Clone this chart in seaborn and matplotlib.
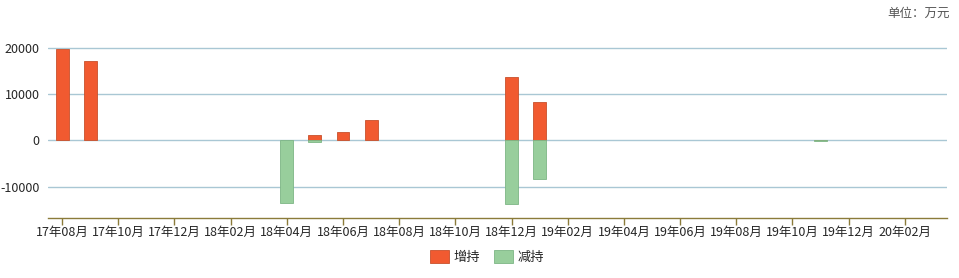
import matplotlib
matplotlib.use("Agg")
import matplotlib.pyplot as plt
from matplotlib.patches import Patch
import seaborn as sns
import pandas as pd

months = ["17年08月", "17年09月", "17年10月", "17年11月", "17年12月",
          "18年01月", "18年02月", "18年03月", "18年04月", "18年05月", "18年06月",
          "18年07月", "18年08月", "18年09月", "18年10月", "18年11月", "18年12月",
          "19年01月", "19年02月", "19年03月", "19年04月", "19年05月", "19年06月",
          "19年07月", "19年08月", "19年09月", "19年10月", "19年11月", "19年12月",
          "20年01月", "20年02月", "20年03月"]
increase = [19800, 17200, 0, 0, 0, 0, 0, 0, 0, 1100, 1800, 4400, 0, 0, 0, 0,
            13700, 8300, 0, 0, 0, 0, 0, 0, 0, 0, 0, 60, 0, 0, 0, 0]
decrease = [0, 0, 0, 0, 0, 0, 0, 0, -13600, -300, 0, 0, 0, 0, 0, 0,
            -13800, -8400, 0, 0, 0, 0, 0, 0, 0, 0, 0, -40, 0, 0, 0, 0]
series_names = ["增持", "减持"]
yticks = [-10000, 0, 10000, 20000]

sns.set_theme(style="white")
plt.rcParams["font.family"] = ["Noto Sans CJK SC", "DejaVu Sans"]
plt.rcParams["axes.unicode_minus"] = False

df = pd.DataFrame({
    "month": months * 2,
    "value": increase + decrease,
    "type": [series_names[0]] * len(months) + [series_names[1]] * len(months),
})

fig = plt.figure(figsize=(9.59, 2.78), dpi=100)
ax = fig.add_axes([48 / 959, 60 / 278, (947 - 48) / 959, (218 - 40) / 278])

palette = {series_names[0]: "#F15A30", series_names[1]: "#98CE9C"}
edges = {series_names[0]: "#C8502C", series_names[1]: "#7DB585"}
sns.barplot(data=df, x="month", y="value", hue="type", order=months,
            hue_order=series_names, dodge=False, palette=palette,
            width=0.46, ax=ax, legend=False, linewidth=0.6,
            edgecolor="#B06040", saturation=1)
# edge colours per series; hide empty bars
for patch in ax.patches:
    if patch.get_height() == 0:
        patch.set_visible(False)
        continue
    fc = patch.get_facecolor()
    if fc[1] > 0.6:
        patch.set_edgecolor(edges[series_names[1]])
    else:
        patch.set_edgecolor(edges[series_names[0]])

ax.set_xlim(-0.5, len(months) - 0.5)
ax.set_ylim(-16800, 21730)
ax.set_yticks(yticks)
ax.set_yticklabels([str(v) for v in yticks], fontsize=9)
ax.yaxis.grid(True, color="#A9C7D4", linewidth=1)
ax.set_axisbelow(True)
ax.set_xlabel("")
ax.set_ylabel("")

tick_pos = list(range(0, len(months), 2))
ax.set_xticks(tick_pos)
ax.set_xticklabels([months[i] for i in tick_pos], fontsize=9)
ax.tick_params(axis="x", direction="out", length=5, color="#8B7B3A",
               width=1, pad=1, bottom=True)
ax.tick_params(axis="y", length=0, pad=6)

for s in ["top", "right", "left"]:
    ax.spines[s].set_visible(False)
ax.spines["bottom"].set_color("#8B7B3A")
ax.spines["bottom"].set_linewidth(1)

handles = [Patch(facecolor=palette[n], edgecolor=edges[n], linewidth=0.6)
           for n in series_names]
ax.legend(handles, series_names, loc="center", bbox_to_anchor=(487 / 959, 21 / 278),
          bbox_transform=fig.transFigure, ncol=2, frameon=False,
          fontsize=9.5, handlelength=1.45, handleheight=1.15, handletextpad=0.35,
          columnspacing=1.0)

fig.text(950 / 959, 1 - 13 / 278, "单位：万元", ha="right", va="center",
         fontsize=9, color="#555555")

fig.savefig("out.png", dpi=100)
